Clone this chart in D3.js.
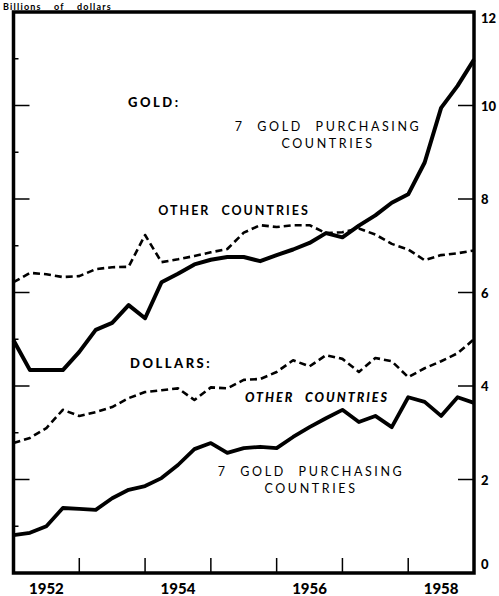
<!DOCTYPE html>
<html>
<head>
<meta charset="utf-8">
<script src="https://cdn.jsdelivr.net/npm/d3@7"></script>
<style>
  body { margin: 0; background: #fff; }
  text { font-family: Lato, "DejaVu Sans", sans-serif; fill: #000; }
</style>
</head>
<body>
<svg id="chart"></svg>
<script>
// Quarter-end positions (year fractions), end of 1951 through end of 1958
const quarters = [
  1952.0, 1952.25, 1952.5, 1952.75, 1953.0, 1953.25, 1953.5, 1953.75,
  1954.0, 1954.25, 1954.5, 1954.75, 1955.0, 1955.25, 1955.5, 1955.75,
  1956.0, 1956.25, 1956.5, 1956.75, 1957.0, 1957.25, 1957.5, 1957.75,
  1958.0, 1958.25, 1958.5, 1958.75, 1959.0,
];

// Billions of dollars
const goldSeven = [
  4.98, 4.34, 4.34, 4.34, 4.73, 5.2, 5.35, 5.73, 5.45, 6.22, 6.4, 6.6,
  6.7, 6.76, 6.76, 6.67, 6.8, 6.92, 7.06, 7.27, 7.18, 7.43, 7.65, 7.92,
  8.1, 8.78, 9.95, 10.42, 10.98,
];
const goldOther = [
  6.22, 6.42, 6.39, 6.33, 6.35, 6.5, 6.54, 6.55, 7.23, 6.65, 6.71, 6.78,
  6.86, 6.93, 7.28, 7.44, 7.4, 7.44, 7.44, 7.27, 7.29, 7.37, 7.24, 7.04,
  6.92, 6.69, 6.8, 6.84, 6.9,
];
const dollarOther = [
  2.78, 2.89, 3.1, 3.49, 3.36, 3.44, 3.55, 3.74, 3.87, 3.91, 3.95, 3.7,
  3.97, 3.95, 4.13, 4.15, 4.3, 4.55, 4.42, 4.66, 4.58, 4.3, 4.6, 4.53,
  4.19, 4.38, 4.53, 4.7, 5.0,
];
const dollarSeven = [
  0.81, 0.86, 1.0, 1.39, 1.37, 1.35, 1.6, 1.78, 1.86, 2.03, 2.31, 2.65,
  2.78, 2.57, 2.67, 2.7, 2.67, 2.91, 3.12, 3.31, 3.49, 3.23, 3.36, 3.12,
  3.76, 3.66, 3.36, 3.76, 3.64,
];

const yearTicks = [1953, 1954, 1955, 1956, 1957, 1958];
const yearLabels = ["1952", "1954", "1956", "1958"];
const valueTicks = [0, 2, 4, 6, 8, 10, 12];
const minorTicks = [1, 3, 5, 7, 9, 11];

const width = 499;
const height = 596;
const plot = { left: 13.5, right: 474, top: 12, bottom: 573 };

const svg = d3.select("#chart").attr("width", width).attr("height", height);

const x = d3.scaleLinear().domain([1952, 1959]).range([plot.left, plot.right]);
const y = d3.scaleLinear().domain([0, 12]).range([plot.bottom, plot.top]);

const series = [
  { values: goldSeven, dashed: false, sw: 4 },
  { values: goldOther, dashed: true, sw: 2.6 },
  { values: dollarOther, dashed: true, sw: 2.6 },
  { values: dollarSeven, dashed: false, sw: 3.8 },
];

const line = d3
  .line()
  .x((d) => x(d[0]))
  .y((d) => y(d[1]));

// Lines
svg
  .append("g")
  .selectAll("path")
  .data(series)
  .join("path")
  .attr("d", (s) => line(quarters.map((q, i) => [q, s.values[i]])))
  .attr("fill", "none")
  .attr("stroke", "#000")
  .attr("stroke-width", (s) => s.sw)
  .attr("stroke-linejoin", "round")
  .attr("stroke-dasharray", (s) => (s.dashed ? "7,4" : null));

// Ticks
const ticks = svg.append("g").attr("stroke", "#000").attr("stroke-width", 1.5);
ticks
  .selectAll(".lt")
  .data(valueTicks.slice(1, -1))
  .join("line")
  .attr("x1", plot.left)
  .attr("x2", plot.left + 16)
  .attr("y1", (d) => y(d))
  .attr("y2", (d) => y(d));
ticks
  .selectAll(".mt")
  .data(minorTicks)
  .join("line")
  .attr("x1", plot.left)
  .attr("x2", plot.left + 5)
  .attr("y1", (d) => y(d))
  .attr("y2", (d) => y(d));
ticks
  .selectAll(".rt")
  .data(valueTicks.slice(1, -1))
  .join("line")
  .attr("x1", plot.right - 16)
  .attr("x2", plot.right)
  .attr("y1", (d) => y(d))
  .attr("y2", (d) => y(d));
ticks
  .selectAll(".bt")
  .data(yearTicks)
  .join("line")
  .attr("x1", (d) => x(d))
  .attr("x2", (d) => x(d))
  .attr("y1", plot.bottom)
  .attr("y2", plot.bottom - 15);

// Frame
svg
  .append("rect")
  .attr("x", plot.left)
  .attr("y", plot.top)
  .attr("width", plot.right - plot.left)
  .attr("height", plot.bottom - plot.top)
  .attr("fill", "none")
  .attr("stroke", "#000")
  .attr("stroke-width", 3.5);

// Right axis labels
svg
  .append("g")
  .selectAll("text")
  .data(valueTicks)
  .join("text")
  .attr("x", 481)
  .attr("y", (d) => y(d) + (d === 0 ? -4 : d === 12 ? 11 : 5))
  .attr("font-size", 13)
  .attr("font-weight", 900)
  .text((d) => d);

// Year labels
svg
  .append("g")
  .selectAll("text")
  .data(yearLabels)
  .join("text")
  .attr("x", (d) => x(+d + 0.5))
  .attr("y", 594)
  .attr("text-anchor", "middle")
  .attr("font-size", 15)
  .attr("font-weight", 900)
  .text((d) => d);

// Units
svg
  .append("text")
  .attr("x", 3)
  .attr("y", 9.5)
  .attr("font-size", 9)
  .attr("font-weight", 700)
  .attr("letter-spacing", 1.2)
  .attr("word-spacing", 9)
  .text("Billions of dollars");

// Annotations
function note(str, px, py, opts) {
  svg
    .append("text")
    .attr("x", px)
    .attr("y", py)
    .attr("text-anchor", opts.anchor || "middle")
    .attr("font-size", opts.size || 12)
    .attr("font-weight", opts.weight || 400)
    .attr("font-style", opts.italic ? "italic" : "normal")
    .attr("letter-spacing", opts.ls || 2)
    .attr("word-spacing", opts.ws || 6)
    .text(str);
}

note("GOLD:", 128, 107, { anchor: "start", size: 13, weight: 900, ls: 2.5 });
note("7 GOLD PURCHASING", 328, 131, { size: 12.5, ls: 2.6, ws: 7 });
note("COUNTRIES", 328, 148, { size: 12.5, ls: 2.6 });
note("OTHER COUNTRIES", 234, 215, { size: 12.5, weight: 700, ls: 2 });
note("DOLLARS:", 130, 368, { anchor: "start", size: 13, weight: 900, ls: 2.5 });
note("OTHER COUNTRIES", 317, 402, { size: 12.5, weight: 900, italic: true, ls: 2 });
note("7 GOLD PURCHASING", 311, 476, { size: 12.5, ls: 2.6, ws: 7 });
note("COUNTRIES", 311, 493, { size: 12.5, ls: 2.6 });
</script>
</body>
</html>
